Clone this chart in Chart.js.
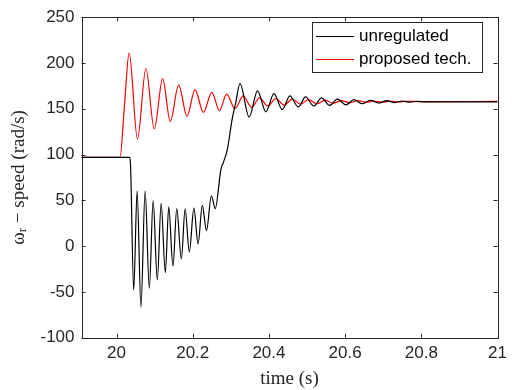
<!DOCTYPE html>
<html>
<head>
<meta charset="utf-8">
<script src="https://cdn.jsdelivr.net/npm/chart.js@4.4.0/dist/chart.umd.min.js"></script>
<style>
  html, body { margin: 0; padding: 0; background: #fff; }
  #wrap { width: 512px; height: 390px; }
</style>
</head>
<body>
<div id="wrap"><canvas id="speed_chart"></canvas></div>
<script>
// values
var timeUnreg = [19.908, 20.035, 20.037, 20.045, 20.054, 20.064, 20.075, 20.086, 20.096, 20.107, 20.117,
    20.128, 20.137, 20.148, 20.158, 20.170, 20.180, 20.191, 20.203, 20.214, 20.225, 20.236, 20.249,
    20.259, 20.274, 20.281, 20.291, 20.304, 20.312, 20.324, 20.348, 20.370, 20.392, 20.413, 20.435,
    20.455, 20.477, 20.496, 20.518, 20.538, 20.559, 20.580, 20.602, 20.623, 20.645, 20.666, 20.688,
    20.709, 20.730, 20.750, 20.770, 20.790, 20.810, 21.0];
var speedUnreg = [97, 97, 85, -48, 60.5, -67, 60.5, -46, 49.6, -37, 46.7,
    -29, 43, -22, 41, -14, 40.6, -6.5, 41.6, 2.5, 44.6, 17, 55,
    41, 84, 92, 106, 140, 155, 177.5, 141, 169.6, 146.7, 166.6, 149,
    164, 152, 163, 153, 162, 153.6, 160.5, 154.3, 160, 155.5, 159.3, 156.3,
    158.8, 156.8, 158.5, 157.2, 158.2, 157.5, 157.6];

var timeProp = [19.908, 20.009, 20.021, 20.033, 20.055, 20.077, 20.099, 20.121, 20.141, 20.163, 20.185,
    20.206, 20.228, 20.250, 20.270, 20.289, 20.311, 20.332, 20.355, 20.375, 20.397, 20.418, 20.440,
    20.461, 20.483, 20.504, 20.526, 20.547, 20.569, 20.590, 20.612, 20.633, 20.655, 20.676, 20.698,
    20.720, 20.740, 20.760, 20.800, 21.0];
var speedProp = [97, 97, 155, 211, 117, 194, 128, 183, 136, 176, 142,
    171, 146, 168, 148, 166, 150, 164, 151.5, 162, 153, 161, 154,
    160.5, 155, 160, 155.5, 159.5, 156, 159, 156.5, 158.8, 157, 158.5, 157.2,
    158.3, 157.5, 158.2, 157.8, 158];

var xTicks = [20, 20.2, 20.4, 20.6, 20.8, 21];
var xMin = 19.908;
var xMax = 21;
var yMin = -100;
var yMax = 250;

var axisColor = '#262626';
var tickFont = { family: 'Liberation Sans', size: 17 };

function toPoints(xs, ys) {
    var pts = [];
    for (var i = 0; i < xs.length; i++) {
        pts.push({ x: xs[i], y: ys[i] });
    }
    return pts;
}

// inner ticks on all four sides, box around the axes and the legend
var boxPlugin = {
    id: 'boxPlugin',
    afterDraw: function (chart) {
        var ctx = chart.ctx;
        var a = chart.chartArea;
        var xs = chart.scales.x;
        var ys = chart.scales.y;
        ctx.save();
        ctx.strokeStyle = axisColor;
        ctx.lineWidth = 1;
        ctx.beginPath();
        xs.ticks.forEach(function (t) {
            var px = Math.round(xs.getPixelForValue(t.value)) + 0.5;
            ctx.moveTo(px, a.bottom); ctx.lineTo(px, a.bottom - 4);
            ctx.moveTo(px, a.top); ctx.lineTo(px, a.top + 4);
        });
        ys.ticks.forEach(function (t) {
            var py = Math.round(ys.getPixelForValue(t.value)) + 0.5;
            ctx.moveTo(a.left, py); ctx.lineTo(a.left + 4, py);
            ctx.moveTo(a.right, py); ctx.lineTo(a.right - 4, py);
        });
        ctx.stroke();
        ctx.strokeRect(Math.round(a.left) + 0.5, Math.round(a.top) + 0.5,
            Math.round(a.right - a.left), Math.round(a.bottom - a.top));

        // legend
        var lx = 312.5, ly = 22.5, lw = 170, lh = 50;
        ctx.fillStyle = '#fff';
        ctx.fillRect(lx, ly, lw, lh);
        ctx.strokeStyle = axisColor;
        ctx.strokeRect(lx, ly, lw, lh);
        ctx.font = '17px "Liberation Sans"';
        ctx.textBaseline = 'middle';
        chart.data.datasets.forEach(function (ds, i) {
            var yy = 36.5 + i * 23;
            ctx.strokeStyle = ds.borderColor;
            ctx.beginPath();
            ctx.moveTo(316, yy); ctx.lineTo(354, yy);
            ctx.stroke();
            ctx.fillStyle = '#000';
            ctx.fillText(ds.label, 359, yy);
        });
        ctx.restore();
    }
};

var chart = new Chart(document.getElementById('speed_chart').getContext('2d'), {
    type: 'line',
    data: {
        datasets: [{
            label: 'unregulated',
            data: toPoints(timeUnreg, speedUnreg),
            borderColor: '#000000',
            borderWidth: 1.2,
            pointRadius: 0,
            cubicInterpolationMode: 'monotone',
            fill: false
        }, {
            label: 'proposed tech.',
            data: toPoints(timeProp, speedProp),
            borderColor: '#ff0000',
            borderWidth: 1.2,
            pointRadius: 0,
            cubicInterpolationMode: 'monotone',
            fill: false
        }]
    },
    options: {
        responsive: true,
        maintainAspectRatio: false,
        animation: false,
        layout: { padding: { top: 15, right: 12, left: 0, bottom: 0 } },
        plugins: {
            legend: { display: false },
            tooltip: { enabled: false }
        },
        scales: {
            x: {
                type: 'linear',
                min: xMin,
                max: xMax,
                afterBuildTicks: function (scale) {
                    scale.ticks = xTicks.map(function (v) { return { value: v }; });
                },
                afterFit: function (scale) { scale.height = 52.3; },
                grid: { display: false, drawTicks: false },
                border: { display: false },
                ticks: {
                    color: axisColor,
                    font: tickFont,
                    padding: 5,
                    maxRotation: 0,
                    callback: function (v) { return String(Math.round(v * 10) / 10); }
                },
                title: {
                    display: true,
                    text: 'time (s)',
                    color: axisColor,
                    font: { family: 'Liberation Serif', size: 19 },
                    padding: { top: 0, bottom: 0 }
                }
            },
            y: {
                min: yMin,
                max: yMax,
                afterFit: function (scale) { scale.width = 81.5; },
                grid: { display: false, drawTicks: false },
                border: { display: false },
                ticks: {
                    stepSize: 50,
                    color: axisColor,
                    font: tickFont,
                    padding: 7
                },
                title: {
                    display: true,
                    text: 'ωᵣ − speed (rad/s)',
                    color: axisColor,
                    font: { family: 'Liberation Serif', size: 19 },
                    padding: { top: 8, bottom: 0 }
                }
            }
        }
    },
    plugins: [boxPlugin]
});
</script>
</body>
</html>
